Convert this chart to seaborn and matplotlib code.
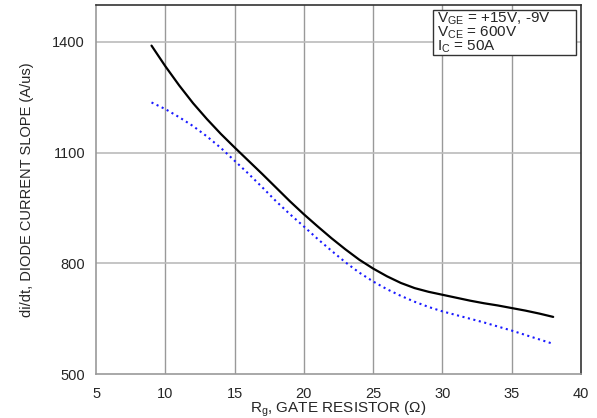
import pandas as pd
import matplotlib
matplotlib.use("Agg")
import matplotlib.pyplot as plt
from matplotlib.patches import Rectangle
import seaborn as sns

# gate resistor (ohm)
rg = [9, 10, 11, 12, 13, 14, 15, 16, 17, 18, 19, 20, 21, 22, 23,
      24, 25, 26, 27, 28, 29, 30, 31, 32, 33, 34, 35, 36, 37, 38]

# di/dt, solid black curve
didt_solid = [1390, 1334, 1282, 1234, 1191, 1151, 1114, 1078, 1042, 1005,
              968, 933, 900, 868, 838, 810, 786, 765, 747, 733,
              723, 715, 707, 699, 692, 686, 679, 672, 664, 655]

# di/dt, blue dotted curve
didt_dotted = [1236, 1218, 1196, 1172, 1144, 1113, 1078, 1043, 1006, 968,
               933, 900, 866, 834, 803, 775, 751, 730, 712, 696,
               682, 670, 660, 650, 640, 629, 618, 606, 594, 582]

x_ticks = [5, 10, 15, 20, 25, 30, 35, 40]
y_ticks = [500, 800, 1100, 1400]

df = pd.DataFrame({"rg": rg, "solid": didt_solid, "dotted": didt_dotted})

sns.set_style("white")
plt.rcParams["font.family"] = ["Liberation Sans", "DejaVu Sans"]
plt.rcParams["mathtext.fontset"] = "custom"
plt.rcParams["mathtext.rm"] = "Liberation Sans"
plt.rcParams["mathtext.it"] = "Liberation Sans"

fig = plt.figure(figsize=(5.97, 4.18), dpi=100)
ax = fig.add_axes([0.161, 0.105, 0.812, 0.883])

sns.lineplot(data=df, x="rg", y="solid", ax=ax, color="black", linewidth=1.6)
sns.lineplot(data=df, x="rg", y="dotted", ax=ax, color="#1a1aff",
             linewidth=1.5, linestyle=(0, (1, 1.7)))

ax.set_xlim(5, 40)
ax.set_ylim(500, 1500)
ax.set_xticks(x_ticks)
ax.set_yticks(y_ticks)
ax.tick_params(axis="x", length=0, labelsize=10.5, pad=9)
ax.tick_params(axis="y", length=0, labelsize=10.5, pad=8)

for v in x_ticks[1:-1]:
    ax.axvline(v, color="#999999", linewidth=1.0, zorder=0)
for v in y_ticks[1:]:
    ax.axhline(v, color="#bbbbbb", linewidth=1.2, zorder=0)

for side in ["left", "bottom"]:
    ax.spines[side].set_color("#999999")
    ax.spines[side].set_linewidth(1.2)
for side in ["top", "right"]:
    ax.spines[side].set_color("#333333")
    ax.spines[side].set_linewidth(1.2)

ax.set_xlabel(r"R$_\mathregular{g}$, GATE RESISTOR ($\Omega$)", fontsize=11)
ax.xaxis.set_label_coords(0.5, -0.068)
ax.set_ylabel("di/dt, DIODE CURRENT SLOPE (A/us)", fontsize=10.5, labelpad=13)

ax.add_patch(Rectangle((0.695, 0.864), 0.295, 0.122, transform=ax.transAxes,
                       facecolor="white", edgecolor="#333333", linewidth=1.0, zorder=5))
ax.text(0.703, 0.984,
        "V$_\\mathregular{GE}$ = +15V, -9V\nV$_\\mathregular{CE}$ = 600V\nI$_\\mathregular{C}$ = 50A",
        transform=ax.transAxes, fontsize=11, va="top", ha="left", linespacing=0.78,
        zorder=6)

fig.savefig("out.png", dpi=100)
